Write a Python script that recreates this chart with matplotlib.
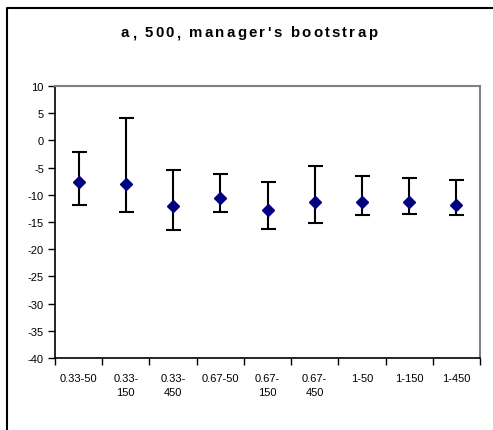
import numpy as np
import matplotlib.pyplot as plt
from matplotlib.lines import Line2D

plt.rcParams['font.family'] = ['Liberation Sans', 'DejaVu Sans']
plt.rcParams['axes.unicode_minus'] = False

# data
labels = ['0.33-50', '0.33-\n150', '0.33-\n450', '0.67-50', '0.67-\n150',
          '0.67-\n450', '1-50', '1-150', '1-450']
means = [-7.7, -8.1, -12.1, -10.6, -12.8, -11.3, -11.3, -11.3, -11.8]
upper = [-2.1, 4.1, -5.4, -6.2, -7.7, -4.7, -6.5, -6.9, -7.2]
lower = [-11.8, -13.2, -16.5, -13.2, -16.2, -15.1, -13.8, -13.5, -13.8]

means = np.array(means)
err = [means - np.array(lower), np.array(upper) - means]
x = np.arange(len(labels))

fig = plt.figure(figsize=(4.93, 4.31), dpi=100)
W, H = 493, 431
ax = fig.add_axes([55 / W, 1 - 359 / H, (480 - 55) / W, (359 - 87) / H])

ax.errorbar(x, means, yerr=err, fmt='none', ecolor='black', elinewidth=1.5,
            capsize=5.4, capthick=1.5, zorder=2)
ax.plot(x, means, 'D', color='#000080', ms=6.2, zorder=3)

ax.set_xlim(-0.5, len(labels) - 0.5)
ax.set_ylim(-40, 10)
ax.set_yticks(np.arange(-40, 11, 5))
ax.set_xticks(np.arange(-0.5, len(labels), 1))
ax.set_xticklabels([])
ax.set_xticks(x, minor=True)
ax.set_xticklabels(labels, minor=True, fontsize=8, linespacing=1.45, va='top')
ax.tick_params(axis='x', which='minor', length=0, pad=11)
ax.tick_params(axis='x', which='major', length=5, width=1, direction='out')
ax.tick_params(axis='y', length=5, width=1, direction='out', labelsize=8, pad=3)

for s in ['top', 'right']:
    ax.spines[s].set_color('#808080')
    ax.spines[s].set_linewidth(1.5)
for s in ['left', 'bottom']:
    ax.spines[s].set_color('black')
    ax.spines[s].set_linewidth(1.2)

# outer chart frame (only left and top edges visible)
fig.add_artist(Line2D([7 / W, 7 / W, 1.0], [0, 1 - 9 / H, 1 - 9 / H],
                      transform=fig.transFigure, color='black', lw=1.5))

# title with wide letter spacing
title = "a, 500, manager's bootstrap"
fs = 10.8
fig.canvas.draw()
r = fig.canvas.get_renderer()
widths = []
for ch in title:
    t = fig.text(0, 0, ch if ch != ' ' else 'n', fontsize=fs, fontweight='bold')
    bb = t.get_window_extent(r)
    widths.append(bb.width if ch != ' ' else bb.width * 0.5)
    t.remove()
extra = 2.2
total = sum(widths) + extra * (len(title) - 1)
xp = 249 - total / 2
for ch, w in zip(title, widths):
    fig.text(xp / W, 1 - 33 / H, ch, fontsize=fs, fontweight='bold',
             va='center', ha='left')
    xp += w + extra

fig.savefig('out.png', dpi=100)
